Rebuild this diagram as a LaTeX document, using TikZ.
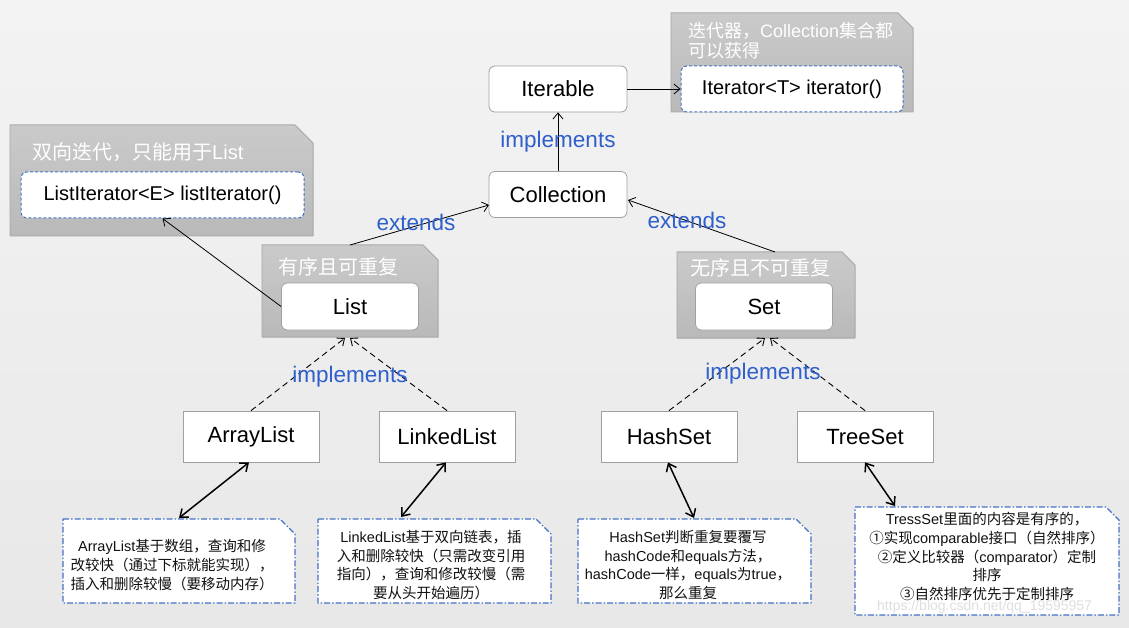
\documentclass[tikz,border=0pt]{standalone}
\usepackage{fontspec}
\setmainfont{Liberation Sans}
\newfontfamily\cjk{Noto Sans CJK SC}
\usetikzlibrary{arrows.meta}
\definecolor{bgtop}{HTML}{F3F3F3}
\definecolor{bgbot}{HTML}{E8E8E8}
\definecolor{graytop}{HTML}{CACACA}
\definecolor{graybot}{HTML}{B9B9B9}
\definecolor{grayedge}{HTML}{A6A6A6}
\definecolor{boxedge}{HTML}{A0A0A0}
\definecolor{dashblue}{HTML}{4472C4}
\definecolor{bluetxt}{HTML}{2F5FCC}
\definecolor{txt}{HTML}{111111}
\newcommand{\zhtxt}[1]{{\cjk #1}}
\newcommand{\graynote}[5]{\filldraw[graynotestyle] (#1,#2) -- ({#3-#5},#2) -- (#3,{#2+#5}) -- (#3,#4) -- (#1,#4) -- cycle;}
\newcommand{\bluenote}[5]{\filldraw[bluenotestyle] (#1,#2) -- ({#3-#5},#2) -- (#3,{#2+#5}) -- (#3,#4) -- (#1,#4) -- cycle;}
\begin{document}
\begin{tikzpicture}[x=1pt,y=-1pt,
  graynotestyle/.style={draw=grayedge,line width=0.8pt,top color=graytop,bottom color=graybot},
  bluenotestyle/.style={draw=dashblue,line width=1.1pt,fill=white,dash pattern=on 6pt off 2pt on 1.5pt off 2pt},
  cls/.style={rectangle,rounded corners=6pt,draw=boxedge,line width=0.8pt,fill=white,minimum width=138pt,minimum height=46pt,inner sep=0pt,font=\fontsize{22}{26}\selectfont,text=black},
  impl/.style={rectangle,draw=boxedge,line width=0.8pt,fill=white,minimum width=136pt,minimum height=51pt,inner sep=0pt,font=\fontsize{22}{26}\selectfont,text=black},
  meth/.style={rectangle,rounded corners=6pt,draw=dashblue,line width=1pt,dash pattern=on 3pt off 2pt,fill=white,minimum height=46pt,inner sep=0pt,font=\fontsize{20}{24}\selectfont,text=black},
  notetitle/.style={anchor=west,inner sep=0pt,text=white,align=left},
  bluelbl/.style={inner sep=0pt,text=bluetxt,font=\fontsize{22.5}{26}\selectfont},
  notetxt/.style={inner sep=0pt,align=center,text=txt,font=\fontsize{14.5}{18.8}\selectfont},
  thinarrow/.style={draw=black,line width=0.8pt,-{Straight Barb[length=6pt,width=10pt]}},
  dasharrow/.style={draw=black,line width=0.9pt,dash pattern=on 6pt off 4pt,-{Straight Barb[length=6pt,width=10pt]}},
  dblarrow/.style={draw=black,line width=1.5pt,{Straight Barb[length=7pt,width=11pt]}-{Straight Barb[length=7pt,width=11pt]}}
]
\useasboundingbox (0,0) rectangle (1129,628);
\fill[top color=bgtop,bottom color=bgbot] (0,0) rectangle (1129,628);

% gray notes
\graynote{671}{13}{913}{112}{15}
\graynote{10}{125}{313}{236}{18}
\graynote{262}{245}{438}{337}{15}
\graynote{677}{252}{855}{338}{13}

\node[notetitle,font=\fontsize{18}{20}\selectfont] (toptitle) at (688,41) {\zhtxt{迭代器，}Collection\zhtxt{集合都}\\\zhtxt{可以获得}};
\node[notetitle,font=\fontsize{20}{24}\selectfont] (lefttitle) at (32,152) {\zhtxt{双向迭代，只能用于}List};
\node[notetitle,font=\fontsize{20}{24}\selectfont] (listtitle) at (278,267) {\zhtxt{有序且可重复}};
\node[notetitle,font=\fontsize{20}{24}\selectfont] (settitle) at (690,268) {\zhtxt{无序且不可重复}};

% class boxes
\node[cls] (iterable) at (558,89) {Iterable};
\node[cls] (collection) at (558,194.5) {Collection};
\node[meth,minimum width=222pt] (iterator) at (792,89) {Iterator<T> iterator()};
\node[meth,minimum width=283pt] (listiter) at (162.5,195) {ListIterator<E> listIterator()};
\node[cls,minimum width=137pt,minimum height=47pt] (list) at (350,306.5) {List};
\node[cls,minimum width=137pt,minimum height=47pt] (set) at (764,306.5) {Set};

\node[impl] (arraylist) at (251,436.5) {ArrayList};
\node[impl] (linkedlist) at (447,436.5) {LinkedList};
\node[impl] (hashset) at (669,436.5) {HashSet};
\node[impl] (treeset) at (865,436.5) {TreeSet};

% bottom notes
\bluenote{63}{519}{295}{603}{15}
\bluenote{318}{519}{551}{603}{15}
\bluenote{578}{519}{811}{603}{15}
\bluenote{855}{507}{1119}{615}{13}

\node[notetxt] (alnote) at (172,565) {ArrayList\zhtxt{基于数组，查询和修}\\\zhtxt{改较快（通过下标就能实现），}\\\zhtxt{插入和删除较慢（要移动内存）}};
\node[notetxt] (llnote) at (431,565) {LinkedList\zhtxt{基于双向链表，插}\\\zhtxt{入和删除较快（只需改变引用}\\\zhtxt{指向），查询和修改较慢（需}\\\zhtxt{要从头开始遍历）}};
\node[notetxt] (hsnote) at (688,565) {HashSet\zhtxt{判断重复要覆写}\\hashCode\zhtxt{和}equals\zhtxt{方法，}\\hashCode\zhtxt{一样，}equals\zhtxt{为}true\zhtxt{，}\\\zhtxt{那么重复}};
\node[notetxt] (tsnote) at (987,556.5) {TressSet\zhtxt{里面的内容是有序的，}\\\zhtxt{①实现}comparable\zhtxt{接口（自然排序）}\\\zhtxt{②定义比较器（}comparator\zhtxt{）定制}\\\zhtxt{排序}\\\zhtxt{③自然排序优先于定制排序}};
\node[inner sep=0pt,anchor=west,text=gray!25,font=\fontsize{14}{14}\selectfont] (wm) at (877,607) {https://blog.csdn.net/qq\_19595957};

% connection points
\coordinate (listtop) at (350,245);
\coordinate (settop) at (775,252);
\coordinate (colL) at (489,205);
\coordinate (colR) at (628,200);
\coordinate (listbotL) at (345,338);
\coordinate (listbotR) at (350,338);
\coordinate (setbotL) at (765,338);
\coordinate (setbotR) at (770,338);
\coordinate (alin) at (179,518);
\coordinate (llin) at (401,517);
\coordinate (hsin) at (694,518);
\coordinate (tsin) at (895,506);

% connectors
\draw[thinarrow] (collection) -- (iterable);
\draw[thinarrow] (iterable) -- (iterator);
\draw[thinarrow] (list.west) -- (listiter.south);
\draw[thinarrow] (listtop) -- (colL);
\draw[thinarrow] (settop) -- (colR);
\draw[dasharrow] (arraylist.north) -- (listbotL);
\draw[dasharrow] (linkedlist.north) -- (listbotR);
\draw[dasharrow] (hashset.north) -- (setbotL);
\draw[dasharrow] (treeset.north) -- (setbotR);
\draw[dblarrow] ([xshift=-2pt]arraylist.south) -- (alin);
\draw[dblarrow] ([xshift=-1pt]linkedlist.south) -- (llin);
\draw[dblarrow] ([xshift=-1pt]hashset.south) -- (hsin);
\draw[dblarrow] (treeset.south) -- (tsin);

% labels
\node[bluelbl] (impltop) at (558,142) {implements};
\node[bluelbl] (extL) at (416,222) {extends};
\node[bluelbl] (extR) at (687,220) {extends};
\node[bluelbl] (implL) at (350,377) {implements};
\node[bluelbl] (implR) at (763,374) {implements};
\end{tikzpicture}
\end{document}
